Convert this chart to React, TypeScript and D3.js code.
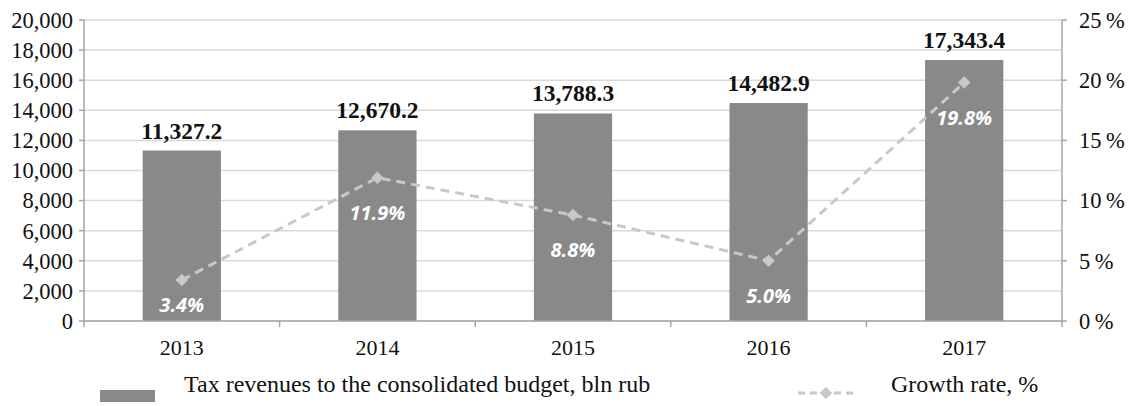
import React from "react";
import * as d3 from "d3";

const years = ["2013", "2014", "2015", "2016", "2017"];
const revenues = [11327.2, 12670.2, 13788.3, 14482.9, 17343.4];
const growth = [3.4, 11.9, 8.8, 5.0, 19.8];
const leftTicks = [0, 2000, 4000, 6000, 8000, 10000, 12000, 14000, 16000, 18000, 20000];
const rightTicks = [0, 5, 10, 15, 20, 25];
const barLegend = "Tax revenues to the consolidated budget, bln rub";
const lineLegend = "Growth rate, %";

const W = 1129;
const H = 406;
const left = 84;
const right = 1062;
const top = 20;
const bottom = 321;

const serif = "'Liberation Serif', 'Times New Roman', serif";
const sans = "'Open Sans', 'Noto Sans', sans-serif";

export default function App() {
  const x = d3.scaleBand<string>().domain(years).range([left, right]).paddingInner(0.6).paddingOuter(0.3);
  const step = x.step();
  const yL = d3.scaleLinear().domain([0, 20000]).range([bottom, top]);
  const yR = d3.scaleLinear().domain([0, 25]).range([bottom, top]);
  const fmtL = d3.format(",");
  const fmtV = d3.format(",.1f");
  const cx = (y: string) => (x(y) as number) + x.bandwidth() / 2;

  const line = d3
    .line<number>()
    .x((_, i) => cx(years[i]))
    .y((d) => yR(d));

  const diamond = d3.symbol().type(d3.symbolDiamond2).size(100)();
  const boundaries = d3.range(years.length + 1).map((i) => left + i * step);

  const gridColor = "#d9d9d9";
  const axisColor = "#a6a6a6";
  const barColor = "#898989";
  const lineColor = "#c8c8c8";

  return (
    <div style={{ position: "absolute", left: 0, top: 0 }}>
      <svg width={W} height={H} style={{ display: "block", background: "#fff" }}>
        {leftTicks.map((t) => (
          <line key={"g" + t} x1={left} x2={right} y1={yL(t)} y2={yL(t)} stroke={gridColor} strokeWidth={1.5} />
        ))}
        {revenues.map((v, i) => (
          <rect key={"b" + i} x={x(years[i])} y={yL(v)} width={x.bandwidth()} height={bottom - yL(v)} fill={barColor} />
        ))}
        <line x1={left} x2={left} y1={top} y2={bottom} stroke={axisColor} strokeWidth={1.5} />
        <line x1={right} x2={right} y1={top} y2={bottom} stroke={axisColor} strokeWidth={1.5} />
        <line x1={left} x2={right} y1={bottom} y2={bottom} stroke={axisColor} strokeWidth={1.5} />
        {leftTicks.map((t) => (
          <g key={"lt" + t}>
            <line x1={left - 5} x2={left} y1={yL(t)} y2={yL(t)} stroke={axisColor} strokeWidth={1.5} />
            <text x={left - 11} y={yL(t)} dy="0.35em" textAnchor="end" fontFamily={serif} fontSize={22.5} fill="#111">
              {fmtL(t)}
            </text>
          </g>
        ))}
        {rightTicks.map((t) => (
          <g key={"rt" + t}>
            <line x1={right} x2={right + 5} y1={yR(t)} y2={yR(t)} stroke={axisColor} strokeWidth={1.5} />
            <text x={right + 17} y={yR(t)} dy="0.35em" textAnchor="start" fontFamily={serif} fontSize={22.5} fill="#111">
              {t + "\u2009%"}
            </text>
          </g>
        ))}
        {boundaries.map((b, i) => (
          <line key={"bt" + i} x1={b} x2={b} y1={bottom} y2={bottom + 6} stroke={axisColor} strokeWidth={1.5} />
        ))}
        {years.map((y) => (
          <text key={"yl" + y} x={cx(y)} y={355} textAnchor="middle" fontFamily={serif} fontSize={22} fill="#111">
            {y}
          </text>
        ))}
        {revenues.map((v, i) => (
          <text key={"vl" + i} x={cx(years[i])} y={yL(v) - 12} textAnchor="middle" fontFamily={serif} fontWeight="bold" fontSize={23.5} fill="#111">
            {fmtV(v)}
          </text>
        ))}
        <path d={line(growth) || ""} fill="none" stroke={lineColor} strokeWidth={3} strokeDasharray="9,6" />
        {growth.map((g, i) => (
          <path key={"m" + i} d={diamond || ""} transform={`translate(${cx(years[i])},${yR(g)})`} fill={lineColor} />
        ))}
        {growth.map((g, i) => (
          <text
            key={"gl" + i}
            x={cx(years[i])}
            y={Math.min(yR(g) + 35, 305)}
            dy="0.35em"
            textAnchor="middle"
            fontFamily={sans}
            fontWeight="bold"
            fontStyle="italic"
            fontSize={20}
            fill="#fff"
          >
            {g.toFixed(1) + "%"}
          </text>
        ))}
        <rect x={100} y={390} width={55} height={12} fill={barColor} />
        <text x={184} y={392} fontFamily={serif} fontSize={24} fill="#111">
          {barLegend}
        </text>
        <line x1={798} x2={857} y1={393} y2={393} stroke={lineColor} strokeWidth={3} strokeDasharray="7,5" />
        <path d={diamond || ""} transform={`translate(826,393)`} fill={lineColor} />
        <text x={891} y={392} fontFamily={serif} fontSize={24} fill="#111">
          {lineLegend}
        </text>
      </svg>
    </div>
  );
}
